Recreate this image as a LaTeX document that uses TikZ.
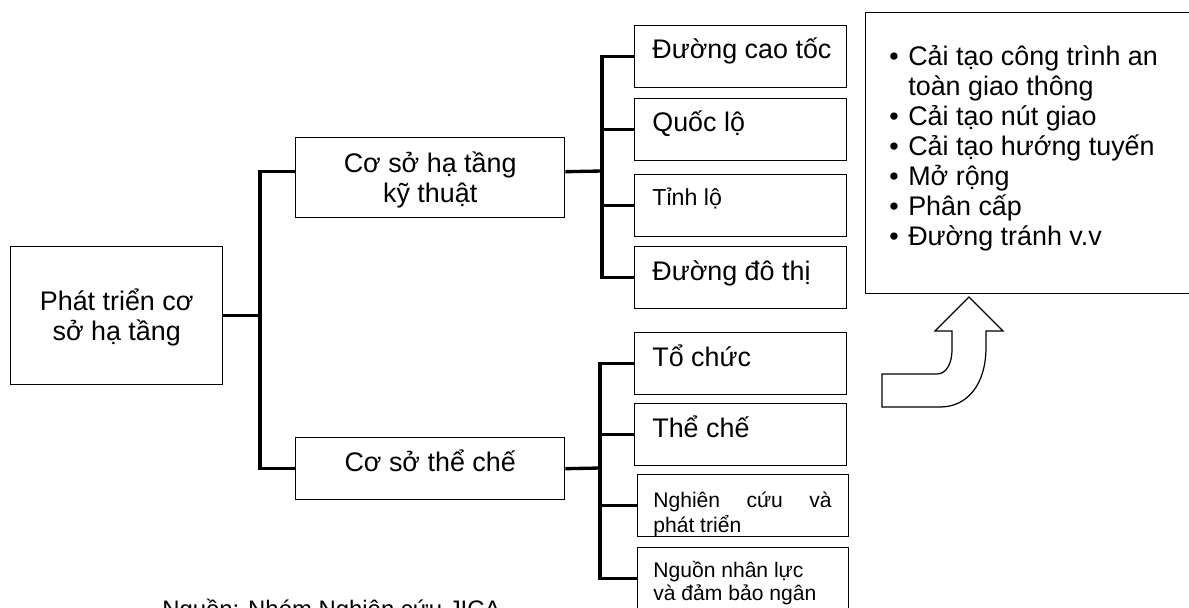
\documentclass[tikz,border=0pt]{standalone}
\usepackage{fontspec}
\setmainfont{Liberation Sans}
\newcommand{\itembul}{\makebox[10.8pt][l]{\textbullet}}
\newcommand{\bigfont}{\fontsize{15.3}{17}\selectfont}
\newcommand{\smallfont}{\fontsize{12}{14.2}\selectfont}
\setlength{\lineskiplimit}{-20pt}

\begin{document}
\begin{tikzpicture}[x=0.02cm, y=-0.02cm,
  box/.style={draw, line width=0.8pt, inner sep=0pt, anchor=north west},
  leaf/.style={box, minimum width=4.24cm, minimum height=1.24cm},
  conn/.style={line width=1.9pt},
  txt/.style={inner sep=0pt, font=\bigfont},
  smalltxt/.style={inner sep=0pt, font=\smallfont}]
  \useasboundingbox (0,0) rectangle (1189,608);
  \clip (0,0) rectangle (1189,608);

  % root and the two main branches (base = last line)
  \node[box, minimum width=4.24cm, minimum height=2.76cm] (root) at (10,246) {};
  \node[txt, align=center, anchor=base] at ([shift={(0,94)}]root.north) {Phát triển cơ\\sở hạ tầng};
  \node[box, minimum width=5.38cm, minimum height=1.6cm] (tech) at (295,137) {};
  \node[txt, align=center, anchor=base] at ([shift={(0,65)}]tech.north) {Cơ sở hạ tầng\\kỹ thuật};
  \node[box, minimum width=5.38cm, minimum height=1.24cm] (inst) at (295,437) {};
  \node[txt, anchor=base] at ([shift={(0,34)}]inst.north) {Cơ sở thể chế};

  % leaves
  \node[leaf] (hwy) at (634,25) {};
  \node[leaf] (nat) at (634,98) {};
  \node[leaf] (prov) at (634,174) {};
  \node[leaf] (urb) at (634,246) {};
  \node[leaf] (org) at (634,332) {};
  \node[leaf] (law) at (634,403) {};
  \node[leaf, minimum width=4.22cm] (res) at (637,474) {};
  \node[leaf, minimum width=4.22cm] (hr) at (637,547) {};
  \foreach \n/\t in {hwy/Đường cao tốc, nat/Quốc lộ, urb/Đường đô thị, org/Tổ chức, law/Thể chế}
    \node[txt, anchor=base west] at ([shift={(18,34)}]\n.north west) {\t};
  \node[txt, font=\fontsize{13.2}{15}\selectfont, anchor=base west] at ([shift={(18,31)}]prov.north west) {Tỉnh lộ};
  \begin{scope}
    \clip (res.north west) rectangle (res.south east);
    \node[smalltxt, align=left, anchor=base west] at ([shift={(16,58)}]res.north west) {\makebox[101.5pt][s]{Nghiên cứu và}\\phát triển};
  \end{scope}
  \node[smalltxt, font=\fontsize{12}{13}\selectfont, align=left, anchor=base west] at ([shift={(16,53)}]hr.north west) {Nguồn nhân lực\\và đảm bảo ngân};

  % measures
  \node[box, minimum width=6.54cm, minimum height=5.62cm] (works) at (865,12) {};
  \node[txt, align=left, anchor=base west] at ([shift={(24,233)}]works.north west) {\itembul Cải tạo công trình an\\\hspace*{10.8pt}toàn giao thông\\\itembul Cải tạo nút giao\\\itembul Cải tạo hướng tuyến\\\itembul Mở rộng\\\itembul Phân cấp\\\itembul Đường tránh v.v};

  % connectors
  \coordinate (lb) at (260,318);
  \coordinate (rbu) at (602,171);
  \coordinate (rbl) at (600,468);
  \draw[conn] ([shift={(0,-6)}]tech.west) -| (lb) |- (inst.west);
  \draw[conn] (root.east) -- (root.east -| lb);
  \draw[conn] ([shift={(0,-6)}]tech.east) -- (rbu);
  \draw[conn] (hwy.west) -| (rbu) |- (urb.west);
  \draw[conn] (inst.east) -- (rbl);
  \draw[conn] (org.west) -| (rbl) |- (hr.west);
  \foreach \n in {nat,prov} \draw[conn] (\n.west) -- (\n.west -| rbu);
  \foreach \n in {law,res} \draw[conn] (\n.west) -- (\n.west -| rbl);

  % bent arrow
  \draw[line width=0.7pt] (882,374) -- (937,374) .. controls (947,374) and (952,362) .. (952,350)
    -- (952,331) -- (935,331) -- (969,297) -- (1003,331) -- (986,331) -- (986,347)
    .. controls (986,385) and (967,407) .. (940,407) -- (882,407) -- cycle;

  \node[txt, font=\fontsize{13.6}{16}\selectfont, anchor=base west] (source) at (162,617) {Nguồn: Nhóm Nghiên cứu JICA};
\end{tikzpicture}
\end{document}
